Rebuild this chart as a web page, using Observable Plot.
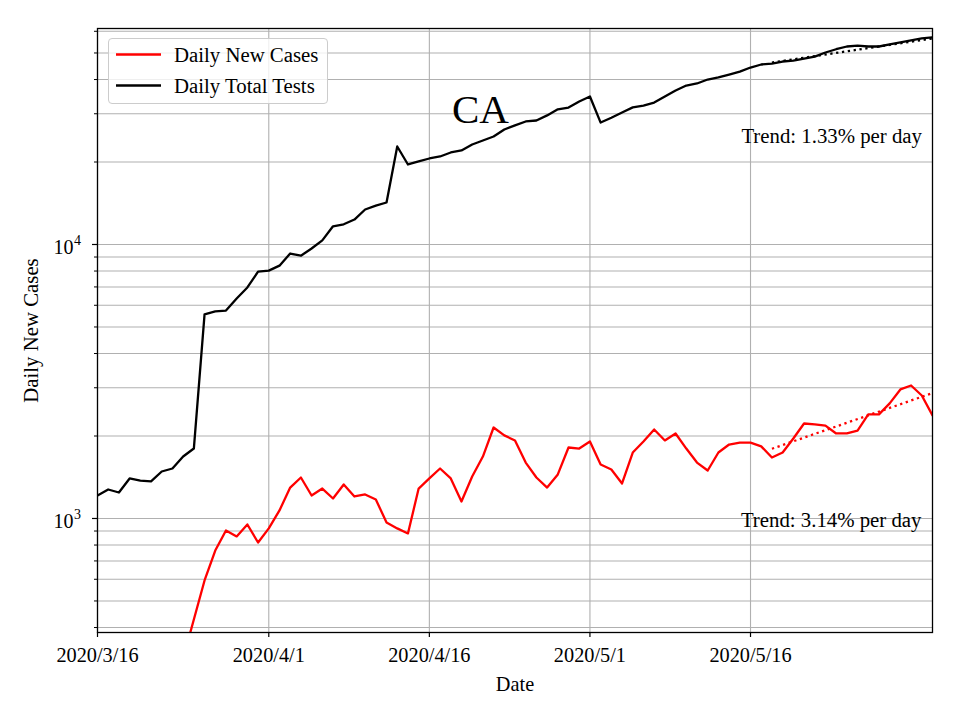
<!DOCTYPE html>
<html>
<head>
<meta charset="utf-8">
<script src="https://cdn.jsdelivr.net/npm/d3@7"></script>
<script src="https://cdn.jsdelivr.net/npm/@observablehq/plot@0.6"></script>
<style>
  body { margin: 0; background: #fff; }
  #wrap { position: relative; width: 960px; height: 720px; font-family: "Liberation Serif", "Times New Roman", serif; }
  #legend { position: absolute; left: 108px; top: 38px; width: 220px; height: 66px; box-sizing: border-box;
            border: 1px solid #cccccc; border-radius: 4px; background: rgba(255,255,255,0.8); }
  #legend .item { position: absolute; left: 0; width: 100%; height: 31px; }
  #legend svg { position: absolute; left: 6px; top: 0; }
  #legend span { position: absolute; left: 65px; font-size: 20.8px; line-height: 1; white-space: nowrap; color: #000; }
</style>
</head>
<body>
<div id="wrap"></div>
<script>
// ---- data ----
const startDate = [2020, 2, 16]; // 2020-03-16 (UTC, month 0-based)
const casesStartDay = 8;
const dailyNewCases = [308, 428, 594, 764, 904, 860, 951, 817, 920, 1070, 1297, 1411, 1213, 1286, 1183, 1331,
  1203, 1224, 1173, 967, 920, 882, 1286, 1400, 1522, 1400, 1154, 1423, 1683, 2148, 2010, 1927, 1600, 1411,
  1297, 1448, 1816, 1800, 1910, 1574, 1510, 1342, 1741, 1910, 2113, 1927, 2043, 1800, 1600, 1497, 1741,
  1862, 1893, 1893, 1833, 1670, 1741, 1958, 2222, 2205, 2183, 2043, 2043, 2094, 2398, 2398, 2631, 2958,
  3057, 2811, 2377];
const testsStartDay = 0;
const dailyTotalTests = [1213, 1276, 1244, 1400, 1375, 1365, 1484, 1522, 1683, 1800, 5560, 5700, 5740, 6350,
  6970, 7960, 8030, 8370, 9270, 9100, 9670, 10350, 11650, 11850, 12330, 13420, 13870, 14230, 22790, 19590,
  20110, 20600, 20950, 21670, 22040, 23180, 23970, 24790, 26290, 27200, 28120, 28350, 29590, 31130, 31600,
  33270, 34700, 27860, 29030, 30330, 31650, 32150, 32960, 34700, 36480, 38030, 38700, 40000, 40700, 41700,
  42750, 44240, 45380, 45760, 46540, 46900, 47700, 48500, 50200, 51600, 52800, 53200, 52800, 52800, 53700,
  54700, 55600, 56500, 57000];
const casesTrendDays = [63, 78];
const casesTrendValues = [1797, 2869];
const testsTrendDays = [63, 78];
const testsTrendValues = [46150, 56500];
const trendLabels = ["Trend: 1.33% per day", "Trend: 3.14% per day"];
const titleText = "CA";
const seriesNames = ["Daily New Cases", "Daily Total Tests"];
const xTickDays = [0, 16, 31, 46, 61];
const xTickLabels = ["2020/3/16", "2020/4/1", "2020/4/16", "2020/5/1", "2020/5/16"];
const xDomainDays = [0, 78];
const yDomain = [383.6, 61420];
const yMajorTicks = [1000, 10000];
const yMajorExponents = ["3", "4"];
const yMinorTicks = [400, 500, 600, 700, 800, 900, 2000, 3000, 4000, 5000, 6000, 7000, 8000, 9000,
  20000, 30000, 40000, 50000, 60000];

// ---- build tables ----
const dayToDate = d => new Date(Date.UTC(startDate[0], startDate[1], startDate[2] + d));
const cases = dailyNewCases.map((v, i) => ({date: dayToDate(casesStartDay + i), value: v}));
const tests = dailyTotalTests.map((v, i) => ({date: dayToDate(testsStartDay + i), value: v}));
const casesTrend = casesTrendDays.map((d, i) => ({date: dayToDate(d), value: casesTrendValues[i]}));
const testsTrend = testsTrendDays.map((d, i) => ({date: dayToDate(d), value: testsTrendValues[i]}));
const xTicks = xTickDays.map(dayToDate);
const labelByTime = new Map(xTicks.map((t, i) => [+t, xTickLabels[i]]));
const yAllTicks = [...yMinorTicks, ...yMajorTicks];
const majors = yMajorTicks.map((v, i) => ({v, e: yMajorExponents[i]}));

const font = "Liberation Serif";
const gridStyle = {stroke: "#b0b0b0", strokeOpacity: 1, strokeWidth: 1.1};
const lw = 2.3;

const chart = Plot.plot({
  width: 960,
  height: 720,
  marginLeft: 97,
  marginRight: 28,
  marginTop: 28,
  marginBottom: 88,
  style: {fontFamily: font, fontSize: "20px", background: "white", color: "black", overflow: "visible"},
  x: {type: "utc", domain: xDomainDays.map(dayToDate), label: null},
  y: {type: "log", domain: yDomain, label: null},
  marks: [
    Plot.gridY(yAllTicks, gridStyle),
    Plot.gridX(xTicks, gridStyle),
    Plot.line(cases, {x: "date", y: "value", stroke: "red", strokeWidth: lw, clip: true}),
    Plot.line(tests, {x: "date", y: "value", stroke: "black", strokeWidth: lw, clip: true}),
    Plot.line(casesTrend, {x: "date", y: "value", stroke: "red", strokeWidth: lw, strokeDasharray: "2.3,3.6", strokeLinecap: "butt"}),
    Plot.line(testsTrend, {x: "date", y: "value", stroke: "black", strokeWidth: lw, strokeDasharray: "2.3,3.6", strokeLinecap: "butt"}),
    Plot.frame({stroke: "black", strokeWidth: 1.3}),
    Plot.axisX({ticks: xTicks, tickFormat: d => labelByTime.get(+d) ?? "", tickSize: 5, tickPadding: 10.5, fontSize: 20.3, label: null, strokeWidth: 1.2}),
    Plot.axisY({ticks: yMinorTicks, tickSize: 3, tickFormat: () => "", label: null, strokeWidth: 1}),
    Plot.axisY({ticks: yMajorTicks, tickSize: 5, tickFormat: () => "", label: null, strokeWidth: 1.2}),
    Plot.text(majors, {y: "v", text: () => "10", frameAnchor: "left", textAnchor: "end", dx: -24, lineAnchor: "bottom", dy: 9.5, fontSize: 20}),
    Plot.text(majors, {y: "v", text: "e", frameAnchor: "left", textAnchor: "start", dx: -23.5, lineAnchor: "bottom", dy: 0.5, fontSize: 14}),
    Plot.text([titleText], {text: d => d, frameAnchor: "top", dx: -34.5, dy: 94, lineAnchor: "bottom", fontSize: 41}),
    Plot.text([trendLabels[0]], {text: d => d, frameAnchor: "top-right", textAnchor: "end", dx: -10.5, dy: 114, lineAnchor: "bottom", fontSize: 20.8}),
    Plot.text([trendLabels[1]], {text: d => d, frameAnchor: "top-right", textAnchor: "end", dx: -11, dy: 498.7, lineAnchor: "bottom", fontSize: 20.8}),
    Plot.text(["Date"], {text: d => d, frameAnchor: "bottom", dy: 58, lineAnchor: "bottom", fontSize: 20.3}),
    Plot.text([seriesNames[0]], {text: d => d, frameAnchor: "left", textAnchor: "middle", dx: -59.5, rotate: -90, lineAnchor: "bottom", fontSize: 20.8})
  ]
});

const wrap = document.getElementById("wrap");
wrap.appendChild(chart);

// legend
const legend = document.createElement("div");
legend.id = "legend";
const colors = ["red", "black"];
seriesNames.forEach((name, i) => {
  const item = document.createElement("div");
  item.className = "item";
  item.style.top = (i * 31) + "px";
  item.innerHTML = `<svg width="48" height="31"><line x1="1" x2="46" y1="15.5" y2="15.5" stroke="${colors[i]}" stroke-width="${lw}"/></svg><span style="top:6px">${name}</span>`;
  legend.appendChild(item);
});
wrap.appendChild(legend);
</script>
</body>
</html>
